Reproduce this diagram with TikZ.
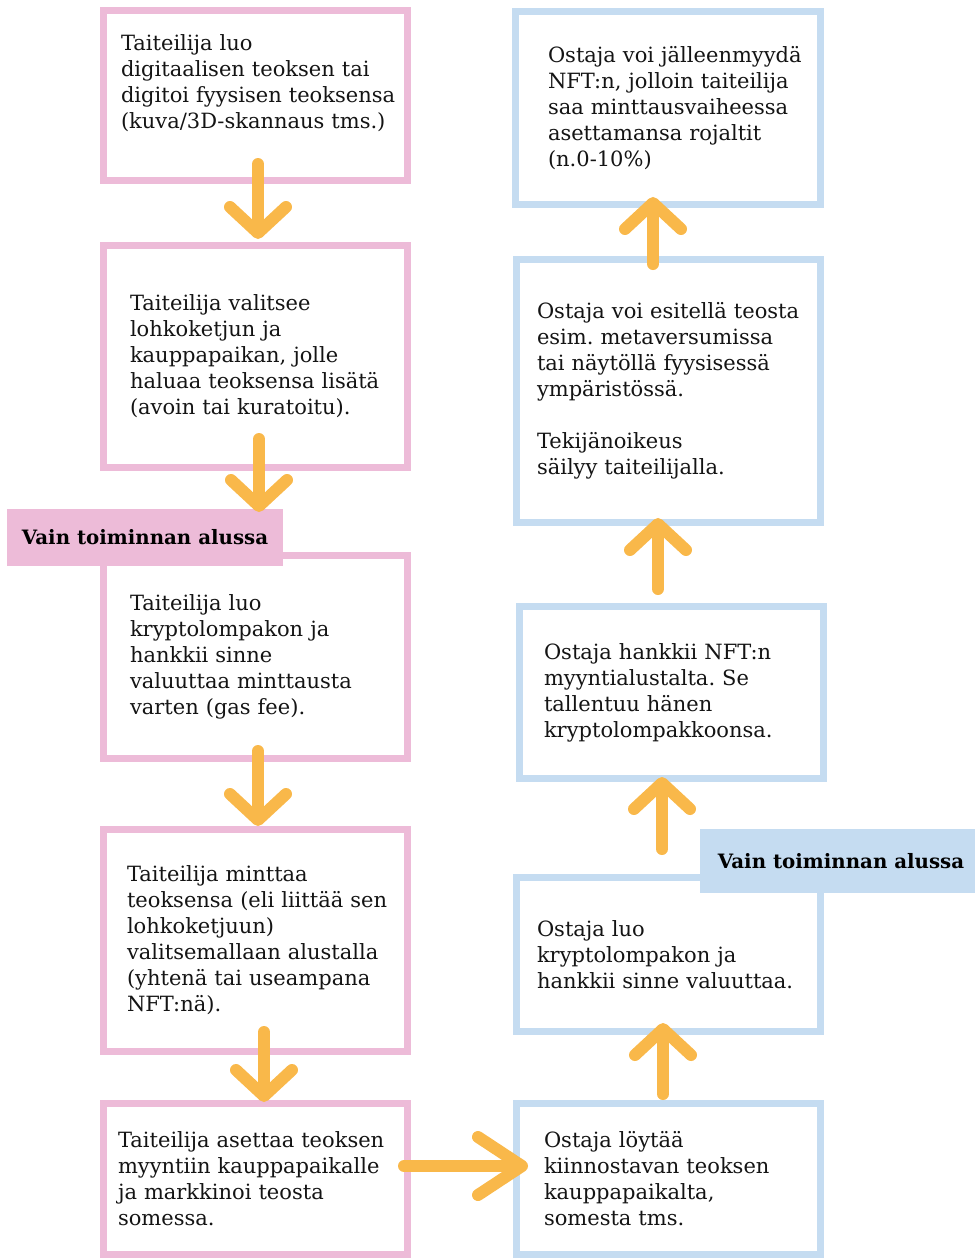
\documentclass[tikz,border=0pt]{standalone}
\usepackage{fontspec}
\setmainfont{DejaVu Serif}
\usetikzlibrary{arrows.meta,calc}
\definecolor{artistpink}{HTML}{EDBBD8}
\definecolor{buyerblue}{HTML}{C5DCF1}
\definecolor{flowarrow}{HTML}{F9B84A}
\frenchspacing
\begin{document}
\begin{tikzpicture}[x=1pt,y=-1pt,
    box/.style={draw,line width=7pt,fill=white,outer sep=0pt,inner ysep=0pt,
      align=left,font=\fontsize{21}{26}\selectfont,text=black!92,
      execute at begin node={\rightskip=-80pt plus 1fil\relax}},
    artist/.style={box,draw=artistpink},
    buyer/.style={box,draw=buyerblue},
    phase/.style={outer sep=0pt,inner sep=0pt,font=\fontsize{19.8}{26}\selectfont\bfseries},
    flow/.style={draw=flowarrow,line width=12pt,line cap=round,
      -{Straight Barb[length=26pt,width=56pt,round]}},
    bigflow/.style={flow,-{Straight Barb[length=44pt,width=58pt,round]}}
  ]
  \useasboundingbox (0,0) rectangle (975,1258);

  % taiteilijan polku
  \node[artist, minimum height=170pt, inner xsep=17.5pt, text width=269pt] (l1) at (255.5,95)
    {Taiteilija luo\\ digitaalisen teoksen tai\\ digitoi fyysisen teoksensa\\ (kuva/3D-skannaus tms.)\\ \mbox{}};
  \node[artist, minimum height=221.5pt, inner xsep=26.5pt, text width=251pt] (l2) at (255.5,356.25)
    {Taiteilija valitsee\\ lohkoketjun ja\\ kauppapaikan, jolle\\ haluaa teoksensa lisätä\\ (avoin tai kuratoitu).};
  \node[artist, minimum height=203pt, inner xsep=26.5pt, text width=251pt] (l3) at (255.5,657)
    {Taiteilija luo\\ kryptolompakon ja\\ hankkii sinne\\ valuuttaa minttausta\\ varten (gas fee).};
  \node[artist, minimum height=222.5pt, inner xsep=23.5pt, text width=257pt] (l4) at (255.5,940.25)
    {Taiteilija minttaa\\ teoksensa (eli liittää sen\\ lohkoketjuun)\\ valitsemallaan alustalla\\ (yhtenä tai useampana\\ NFT:nä).};
  \node[artist, minimum height=150.5pt, inner xsep=14.5pt, text width=275pt] (l5) at (255.5,1178.75)
    {Taiteilija asettaa teoksen\\ myyntiin kauppapaikalle\\ ja markkinoi teosta\\ somessa.};

  % ostajan polku
  \node[buyer, minimum height=193pt, inner xsep=32.5pt, text width=240pt] (r1) at (668,108)
    {Ostaja voi jälleenmyydä\\ NFT:n, jolloin taiteilija\\ saa minttausvaiheessa\\ asettamansa rojaltit\\ (n.0-10\%)};
  \node[buyer, minimum height=263pt, inner xsep=21pt, text width=262pt] (r2) at (668,391)
    {Ostaja voi esitellä teosta\\ esim. metaversumissa\\ tai näytöllä fyysisessä\\ ympäristössä.\\[26pt] Tekijänoikeus\\ säilyy taiteilijalla.};
  \node[buyer, minimum height=172pt, inner xsep=24.5pt, text width=255pt] (r3) at (671.5,692.5)
    {Ostaja hankkii NFT:n\\ myyntialustalta. Se\\ tallentuu hänen\\ kryptolompakkoonsa.};
  \node[buyer, minimum height=154pt, inner xsep=21pt, text width=262pt] (r4) at (668,954.5)
    {Ostaja luo\\ kryptolompakon ja\\ hankkii sinne valuuttaa.};
  \node[buyer, minimum height=150.5pt, inner xsep=28pt, text width=248pt] (r5) at (668,1178.75)
    {Ostaja löytää\\ kiinnostavan teoksen\\ kauppapaikalta,\\ somesta tms.};

  % vaiheliput
  \node[phase, fill=artistpink, minimum width=276pt, minimum height=57pt] (alku1) at (145,537.5)
    {Vain toiminnan alussa};
  \node[phase, fill=buyerblue, minimum width=275pt, minimum height=64pt] (alku2) at (837.5,861)
    {\hspace{7pt}Vain toiminnan alussa};

  % nuolet
  \draw[flow] ($(l1.south)+(2.5,-16)$) -- ($(l2.north)+(2.5,-6.5)$);
  \draw[flow] ($(l2.south)+(3.5,-28)$) -- ($(l2.south |- alku1.north)+(3.5,3)$);
  \draw[flow] ($(l3.south)+(2.5,-7.5)$) -- ($(l4.north)+(2.5,-3)$);
  \draw[flow] ($(l4.south)+(8.5,-19.5)$) -- ($(l5.north)+(8.5,-1.5)$);
  \draw[bigflow] ($(l5.east)+(-3.5,-12.75)$) -- ($(r5.west)+(12,-12.75)$);
  \draw[flow] ($(r5.north)+(-5,-9.5)$) -- ($(r4.south)+(-5,-8.5)$);
  \draw[flow] ($(r4.north)+(-6,-28.5)$) -- ($(r3.south)+(-9.5,-1.5)$);
  \draw[flow] ($(r3.south |- r3.north)+(-13.5,-17.5)$) -- ($(r2.south)+(-10,-4.5)$);
  \draw[flow] ($(r2.north)+(-15,4.5)$) -- ($(r1.south)+(-15,-7.5)$);
\end{tikzpicture}
\end{document}
